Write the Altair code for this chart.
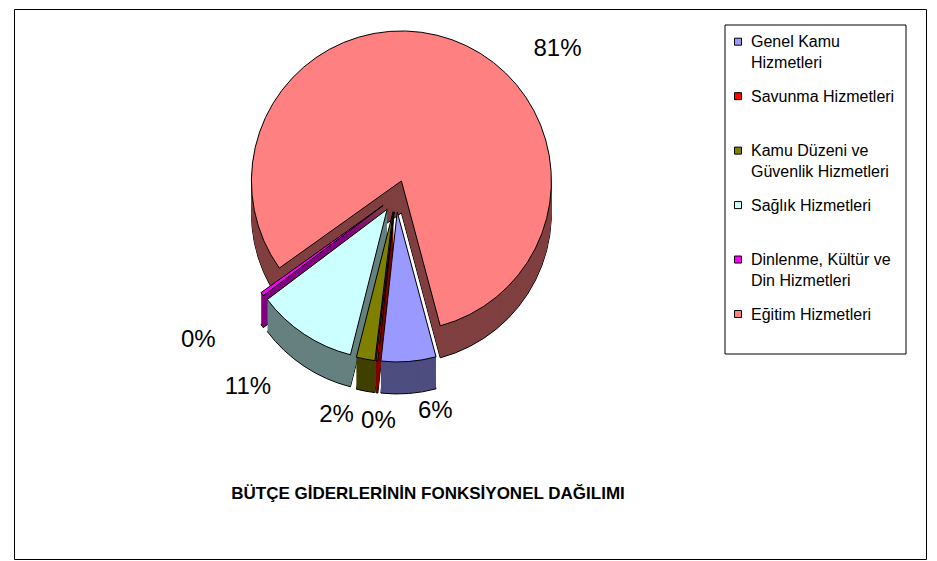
import math
import altair as alt
import pandas as pd

# ---------------- data ----------------
categories = [
    "Genel Kamu Hizmetleri",
    "Savunma Hizmetleri",
    "Kamu Düzeni ve Güvenlik Hizmetleri",
    "Sağlık Hizmetleri",
    "Dinlenme, Kültür ve Din Hizmetleri",
    "Eğitim Hizmetleri",
]
legend_labels = [
    "Genel Kamu\nHizmetleri",
    "Savunma Hizmetleri",
    "Kamu Düzeni ve\nGüvenlik Hizmetleri",
    "Sağlık Hizmetleri",
    "Dinlenme, Kültür ve\nDin Hizmetleri",
    "Eğitim Hizmetleri",
]
shares = [5.9, 0.2, 2.0, 10.8, 0.4, 80.7]
title_text = "BÜTÇE GİDERLERİNİN FONKSİYONEL DAĞILIMI"

# ---------------- styles ----------------
top_colors = ["#9999FF", "#FF0000", "#808000", "#CCFFFF", "#FF00FF", "#FF8080"]
side_colors = ["#4D4D80", "#800000", "#404000", "#668080", "#800080", "#804040"]
label_nudge_x = [25, 4, -25, -44, -46, 98]
label_nudge_y = [-4, 6, 3, 8, 14, 30]

W, H = 912, 550
CX, CY = 382, 187
R = 150
DEPTH = 32
EXPLODE = 16
START = math.radians(165)
LABEL_R = R + 22
FONT = "Liberation Sans"

E = EXPLODE / R
LR = LABEL_R / R
D = DEPTH / R

base = pd.DataFrame({
    "cat": categories,
    "share": shares,
    "idx": list(range(len(categories))),
    "nx": label_nudge_x,
    "ny": label_nudge_y,
    "lab": legend_labels,
})


def with_shift(shifts):
    return pd.concat([base.assign(s=s) for s in shifts], ignore_index=True)


xs = alt.Scale(domain=[-1, 1], range=[CX - R, CX + R], nice=False, zero=False)
ys = alt.Scale(domain=[-1, 1], range=[CY - R, CY + R], nice=False, zero=False)
ts = alt.Scale(domain=[0, 100], range=[START, START + 2 * math.pi])
top_scale = alt.Scale(domain=categories, range=top_colors)
side_scale = alt.Scale(domain=categories, range=side_colors)


def geo(df):
    return (
        alt.Chart(df)
        .transform_joinaggregate(total="sum(share)", groupby=["s"])
        .transform_window(cum="sum(share)", sort=[alt.SortField("idx")],
                          frame=[None, 0], groupby=["s"])
        .transform_calculate(
            t0="(datum.cum - datum.share) / datum.total * 100",
            t1="datum.cum / datum.total * 100",
            mid=f"{START} + 2 * PI * (datum.cum - datum.share / 2) / datum.total",
        )
        .transform_calculate(
            ex=f"{E} * sin(datum.mid)",
            ey=f"-{E} * cos(datum.mid) + datum.s / {R}",
            lx=f"{E + LR} * sin(datum.mid) + datum.nx / {R}",
            ly=f"-{E + LR} * cos(datum.mid) + max(0, -cos(datum.mid)) * {D} + datum.ny / {R}",
            pct="format(datum.share / datum.total, '.0%')",
        )
    )


def arc_enc(ch):
    return ch.encode(
        x=alt.X("ex:Q", scale=xs, axis=None),
        y=alt.Y("ey:Q", scale=ys, axis=None),
        theta=alt.Theta("t0:Q", stack=None, scale=ts),
        theta2="t1:Q",
    )


bottom = arc_enc(geo(with_shift([DEPTH])).mark_arc(radius=R, stroke="black", strokeWidth=1)).encode(
    fill=alt.Fill("cat:N", scale=side_scale, legend=None)
)
sides = arc_enc(geo(with_shift(list(range(DEPTH - 1, 0, -1)))).mark_arc(radius=R, strokeWidth=0)).encode(
    fill=alt.Fill("cat:N", scale=side_scale, legend=None)
)
top = arc_enc(geo(with_shift([0])).mark_arc(radius=R, stroke="black", strokeWidth=1)).encode(
    color=alt.Color("cat:N", scale=top_scale, legend=None)
)
labels = geo(with_shift([0])).mark_text(fontSize=24, font=FONT, color="black").encode(
    x=alt.X("lx:Q", scale=xs, axis=None),
    y=alt.Y("ly:Q", scale=ys, axis=None),
    text="pct:N",
)

pie = alt.layer(bottom, sides, top, labels)

# ---------------- legend ----------------
one = pd.DataFrame({"a": [0]})
leg_box = alt.Chart(one).mark_rect(fill="white", stroke="black", strokeWidth=1).encode(
    x=alt.value(711), x2=alt.value(892), y=alt.value(16), y2=alt.value(345)
)
ly_scale = alt.Scale(domain=[0, 5], range=[32.7, 305], nice=False, zero=False)
leg_sym = alt.Chart(base).mark_square(size=49, stroke="black", strokeWidth=1, opacity=1).encode(
    x=alt.value(724),
    y=alt.Y("idx:Q", scale=ly_scale, axis=None),
    color=alt.Color("cat:N", scale=top_scale, legend=None),
)
leg_txt = alt.Chart(base).mark_text(
    align="left", baseline="alphabetic", dy=5.5, lineBreak="\n",
    fontSize=16, lineHeight=21, font=FONT, color="black"
).encode(
    x=alt.value(737),
    y=alt.Y("idx:Q", scale=ly_scale, axis=None),
    text="lab:N",
)
legend = alt.layer(leg_box, leg_sym, leg_txt)

title = alt.Chart(one).mark_text(
    text=title_text, fontSize=17, fontWeight="bold", font=FONT, color="black"
).encode(x=alt.value(414), y=alt.value(485))

chart = (
    alt.layer(pie, legend, title)
    .resolve_scale(x="independent", y="independent")
    .properties(width=W, height=H, autosize=alt.AutoSizeParams(type="none"),
                padding={"left": 6, "top": 1, "right": 2, "bottom": 2})
    .configure_view(stroke="black", strokeWidth=1)
)

chart.save("out.html", embed_options={"renderer": "svg", "actions": False})
